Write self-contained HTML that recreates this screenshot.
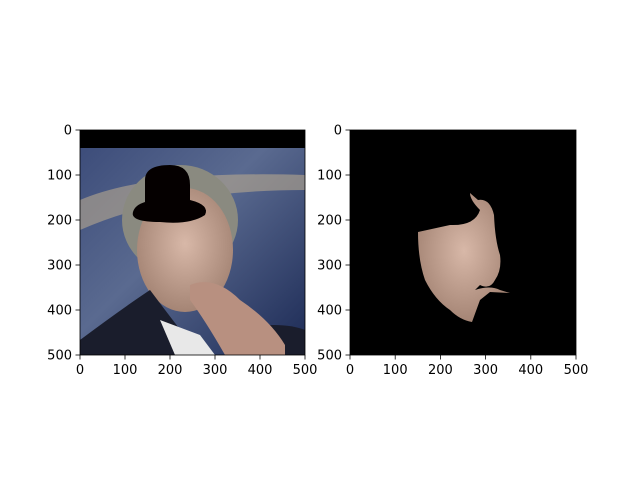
<!DOCTYPE html>
<html><head><meta charset="utf-8"><style>
body{margin:0;background:#fff;}
text{font-family:"DejaVu Sans","Liberation Sans",sans-serif;font-size:13px;fill:#000;}
</style></head><body>
<svg id="fig" width="640" height="480" xmlns="http://www.w3.org/2000/svg">
<defs>
<linearGradient id="bg" x1="0" y1="0" x2="1" y2="1">
<stop offset="0" stop-color="#3a4a78"/><stop offset="0.45" stop-color="#5a6a90"/><stop offset="1" stop-color="#1c2a55"/>
</linearGradient>
<radialGradient id="skin" cx="0.5" cy="0.45" r="0.6">
<stop offset="0" stop-color="#d8b8a8"/><stop offset="1" stop-color="#a08070"/>
</radialGradient>
<clipPath id="clipL"><rect x="80" y="130" width="225" height="225"/></clipPath>
<clipPath id="clipR"><rect x="350" y="130" width="226" height="225"/></clipPath>
</defs>
<g clip-path="url(#clipL)">
<rect x="80" y="130" width="225" height="225" fill="url(#bg)"/>
<path d="M80,200 Q150,170 305,175 L305,190 Q170,190 80,230Z" fill="#b8a890" opacity="0.6"/>
<rect x="80" y="130" width="225" height="18" fill="#000"/>
<ellipse cx="180" cy="220" rx="58" ry="55" fill="#8a8a80"/>
<ellipse cx="185" cy="250" rx="48" ry="62" fill="url(#skin)"/>
<path d="M80,340 Q120,310 150,290 Q180,330 200,355 L80,355Z" fill="#1a1d2c"/>
<path d="M230,330 Q280,320 305,330 L305,355 L230,355Z" fill="#1a1d2c"/>
<path d="M160,320 L200,335 L215,355 L175,355Z" fill="#e8e8e8"/>
<path d="M190,285 Q215,275 240,300 Q270,320 285,345 L285,355 L225,355 Q205,320 190,300Z" fill="#b89080"/>
<path d="M145,180 Q145,165 170,165 Q190,165 190,185 L190,200 Q210,205 205,215 Q190,225 160,222 Q130,222 133,212 Q135,205 145,202Z" fill="#050000"/>
</g>
<g clip-path="url(#clipR)">
<rect x="350" y="130" width="226" height="225" fill="#000"/>
<path d="M418,232 L450,225 Q475,226 480,210 Q470,200 470,193 L478,200 Q490,198 494,215 Q495,240 500,255 Q502,270 495,280 Q490,290 480,285 L475,290 Q490,285 500,290 L510,293 L490,292 L480,300 L472,322 Q460,320 450,310 Q435,300 425,280 Q418,260 418,232Z" fill="url(#skin)"/>
</g>
<g id="axes"></g>
</svg>
<script>
const ticks = [0, 100, 200, 300, 400, 500];
const tickLabels = ["0", "100", "200", "300", "400", "500"];
const panels = [{x0:80,y0:130,w:225,h:225,n:"left"},{x0:350,y0:130,w:226,h:225,n:"right"}];
const NS="http://www.w3.org/2000/svg";
const g=document.getElementById('axes');
function mk(t,a){const e=document.createElementNS(NS,t);for(const k in a)e.setAttribute(k,a[k]);g.appendChild(e);return e;}
panels.forEach(p=>{
  const sx=v=>p.x0+v/500*p.w, sy=v=>p.y0+v/500*p.h;
  const fr=mk('rect',{x:p.x0,y:p.y0,width:p.w,height:p.h,fill:'none',stroke:'#000','stroke-width':0.8});
  
  
  ticks.forEach((t,i)=>{
    const x=sx(t), y=sy(t);
    mk('line',{x1:x,y1:p.y0+p.h,x2:x,y2:p.y0+p.h+4.5,stroke:'#000','stroke-width':0.8});
    const tx=mk('text',{x:x,y:p.y0+p.h+19,'text-anchor':'middle'});
    tx.textContent=tickLabels[i];
    
    
    mk('line',{x1:p.x0-4.5,y1:y,x2:p.x0,y2:y,stroke:'#000','stroke-width':0.8});
    const ty=mk('text',{x:p.x0-8,y:y+4.5,'text-anchor':'end'});
    ty.textContent=tickLabels[i];
    
    
  });
});
</script>
</body></html>
